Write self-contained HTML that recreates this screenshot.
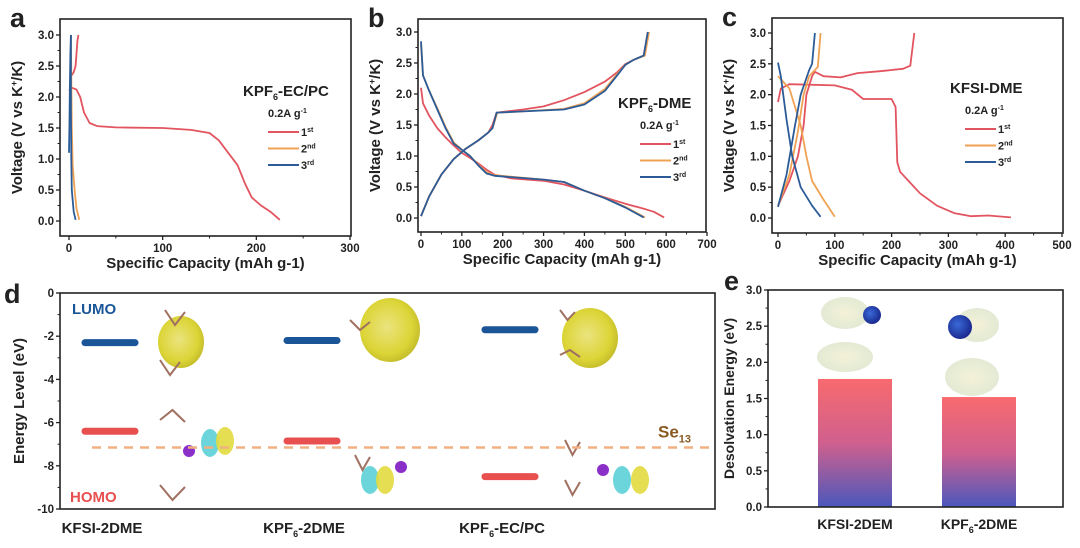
<!DOCTYPE html>
<html><head><meta charset="utf-8">
<style>
html,body{margin:0;padding:0;background:#fff;}
svg{display:block;font-family:"Liberation Sans",Arial,sans-serif;}
text{font-weight:bold;fill:#222;}
</style></head>
<body>
<svg id="fig" width="1080" height="548" viewBox="0 0 1080 548" xmlns="http://www.w3.org/2000/svg">
<defs>
<linearGradient id="barGrad" x1="0" y1="0" x2="0" y2="1">
<stop offset="0" stop-color="#f86a6e"/><stop offset="0.5" stop-color="#d0608e"/><stop offset="1" stop-color="#4a58bc"/>
</linearGradient>
<radialGradient id="blobGrad" cx="0.45" cy="0.45" r="0.6">
<stop offset="0" stop-color="#e8e070"/><stop offset="0.7" stop-color="#d8d020"/><stop offset="1" stop-color="#b8b010"/>
</radialGradient>
<radialGradient id="espGrad" cx="0.5" cy="0.5" r="0.6">
<stop offset="0" stop-color="#f4f2d8"/><stop offset="1" stop-color="#dfe8d2"/>
</radialGradient>
<radialGradient id="blueBall" cx="0.4" cy="0.4" r="0.6">
<stop offset="0" stop-color="#3a6ad8"/><stop offset="1" stop-color="#1a2a90"/>
</radialGradient>
</defs>
<g id="layer"></g>
</svg>
<script>
// ===== Panel a data: KPF6-EC/PC =====
const aCap1d=[0,3,8,12,16,22,30,50,100,130,150,160,170,180,188,195,205,215,225];
const aV1d=[2.1,2.15,2.12,2.0,1.75,1.58,1.53,1.51,1.5,1.47,1.42,1.3,1.1,0.9,0.6,0.38,0.25,0.15,0.02];
const aCap1c=[3,5,7,8,9,10];
const aV1c=[2.35,2.4,2.5,2.7,2.9,3.0];
const aCap2d=[2,3,4,6,8,11];
const aV2d=[3.0,1.5,0.9,0.5,0.2,0.02];
const aCap3d=[2,2,2.5,3,5,7];
const aV3d=[3.0,1.8,1.0,0.5,0.15,0.02];
const aCap3c=[0,0.5,1,1.5,2];
const aV3c=[1.1,1.6,2.2,2.7,3.0];
// ===== Panel b data: KPF6-DME =====
const bCap1d=[0,5,20,40,60,80,100,120,140,160,180,220,300,350,400,450,500,550,570,595];
const bV1d=[2.1,1.85,1.65,1.45,1.3,1.17,1.05,0.97,0.88,0.78,0.7,0.64,0.6,0.54,0.44,0.33,0.23,0.14,0.1,0.01];
const bCap1c=[0,20,50,80,110,140,165,175,185,250,300,350,400,450,480,500,520,545,555];
const bV1c=[0.03,0.35,0.7,0.95,1.12,1.25,1.38,1.5,1.7,1.75,1.8,1.9,2.03,2.2,2.35,2.48,2.55,2.62,3.0];
const bCap2d=[0,5,20,40,60,80,100,120,140,160,180,300,350,400,450,500,548];
const bV2d=[2.8,2.3,2.05,1.77,1.47,1.22,1.1,1.0,0.86,0.74,0.69,0.62,0.58,0.44,0.32,0.18,0.01];
const bCap2c=[0,20,50,80,110,140,165,175,187,250,350,400,450,480,500,520,548,558];
const bV2c=[0.03,0.35,0.7,0.95,1.12,1.25,1.38,1.45,1.7,1.72,1.76,1.85,2.08,2.32,2.47,2.55,2.62,3.0];
const bCap3d=[0,5,20,40,60,80,100,120,140,160,180,300,350,400,450,500,545];
const bV3d=[2.85,2.3,2.05,1.75,1.45,1.2,1.1,1.0,0.85,0.72,0.68,0.62,0.58,0.44,0.32,0.17,0.01];
const bCap3c=[0,20,50,80,110,140,165,175,185,250,350,400,450,480,500,520,545,555];
const bV3c=[0.03,0.35,0.7,0.95,1.12,1.25,1.38,1.45,1.7,1.72,1.75,1.83,2.05,2.3,2.47,2.55,2.62,3.0];
// ===== Panel c data: KFSI-DME =====
const cCap1d=[0,5,20,100,130,150,200,207,210,215,230,250,280,310,340,370,410];
const cV1d=[1.88,2.1,2.17,2.15,2.08,1.93,1.93,1.8,0.9,0.75,0.6,0.4,0.2,0.08,0.03,0.04,0.01];
const cCap1c=[0,20,35,45,50,60,65,80,110,140,180,220,233,240];
const cV1c=[0.2,0.6,1.0,1.5,2.0,2.3,2.37,2.3,2.28,2.35,2.38,2.42,2.47,3.0];
const cCap2d=[0,20,40,50,60,80,100];
const cV2d=[2.3,2.1,1.5,1.0,0.6,0.3,0.02];
const cCap2c=[0,20,35,45,55,70,75];
const cV2c=[0.2,0.7,1.4,2.0,2.3,2.45,3.0];
const cCap3d=[0,5,15,25,40,60,75];
const cV3d=[2.52,2.3,1.6,1.0,0.5,0.2,0.02];
const cCap3c=[0,15,30,40,55,60,65];
const cV3c=[0.18,0.7,1.5,2.0,2.4,2.5,3.0];
// ===== Panel d data =====
const dCats=["KFSI-2DME","KPF6-2DME","KPF6-EC/PC"];
const dLumo=[-2.3,-2.2,-1.7];
const dHomo=[-6.4,-6.85,-8.5];
const dSe13=-7.15;
const dTicks=[0,-2,-4,-6,-8,-10];
// ===== Panel e data =====
const eCats=["KFSI-2DEM","KPF6-2DME"];
const eVals=[1.77,1.52];
const eTicks=[0,0.5,1.0,1.5,2.0,2.5,3.0];
const vTicks=[0,0.5,1.0,1.5,2.0,2.5,3.0];

const NS="http://www.w3.org/2000/svg";
const L=document.getElementById('layer');
function mk(tag,attrs,parent){const e=document.createElementNS(NS,tag);for(const k in attrs)e.setAttribute(k,attrs[k]);(parent||L).appendChild(e);return e;}
function txt(x,y,s,size,anchor,fill,parent){const t=mk('text',{x:x,y:y,'font-size':size,'text-anchor':anchor||'middle'},parent);if(fill)t.style.fill=fill;t.textContent=s;return t;}
const RED="#e2545f",ORG="#f0a254",BLU="#2b5c98";

function gcdPanel(p){
  const g=mk('g',{});
  
  
  const sx=v=>p.x0+(v-p.xmin)/(p.xmax-p.xmin)*(p.x1-p.x0);
  const sy=v=>p.y0-(v)/3*(p.y0-p.y1);
  const fr=mk('rect',{x:p.fl,y:p.ft,width:p.fr-p.fl,height:p.fb-p.ft,fill:'none',stroke:'#222','stroke-width':1.6},g);
  
  vTicks.forEach(v=>{const y=sy(v);mk('line',{x1:p.fl-4,x2:p.fl,y1:y,y2:y,stroke:'#222','stroke-width':1.3},g);
    const t=txt(p.fl-6,y+4,v.toFixed(1),11.5,'end',null,g);
    if(v<3){const ym=sy(v+0.25);mk('line',{x1:p.fl-2.5,x2:p.fl,y1:ym,y2:ym,stroke:'#222','stroke-width':1},g);}});
  p.xt.forEach((v,i)=>{const x=sx(v);mk('line',{x1:x,x2:x,y1:p.fb,y2:p.fb+4,stroke:'#222','stroke-width':1.3},g);
    const t=txt(x,p.fb+16,String(v),11.5,'middle',null,g);
    if(i<p.xt.length-1){const xm=sx(v+(p.xt[1]-p.xt[0])/2);mk('line',{x1:xm,x2:xm,y1:p.fb,y2:p.fb+2.5,stroke:'#222','stroke-width':1},g);}});
  const xl=txt((p.fl+p.fr)/2,p.fb+32,'Specific Capacity (mAh g-1)',15,'middle',null,g);
  
  const yl=mk('text',{x:0,y:0,'font-size':15,'text-anchor':'middle',transform:`translate(${p.fl-38},${(p.ft+p.fb)/2}) rotate(-90)`},g);
  yl.innerHTML='Voltage (V vs K<tspan dy="-5" font-size="9">+</tspan><tspan dy="5">/K)</tspan>';
  
  const lt=txt(p.fl-50,p.ft+8,p.letter,27,'start',null,g);
  
  p.series.forEach(s=>{
    const d=s.c.map((c,i)=>(i?'L':'M')+sx(c).toFixed(1)+','+sy(s.v[i]).toFixed(1)).join(' ');
    const path=mk('path',{d:d,fill:'none',stroke:s.col,'stroke-width':1.8,'stroke-linejoin':'round'},g);
    
  });
  const tt=mk('text',{x:p.lx,y:p.ly,'font-size':15,'text-anchor':'start'},g);tt.innerHTML=p.title;
  
  const rt=mk('text',{x:p.lx2,y:p.ly+21,'font-size':11,'text-anchor':'start'},g);rt.innerHTML='0.2A g<tspan dy="-4" font-size="7">-1</tspan>';
  
  [[RED,'1','st'],[ORG,'2','nd'],[BLU,'3','rd']].forEach((e,i)=>{
    const y=p.ly+36+i*16.5;
    const ln=mk('line',{x1:p.lx2,x2:p.lx2+31,y1:y,y2:y,stroke:e[0],'stroke-width':2},g);
    
    const t=mk('text',{x:p.lx2+33,y:y+4,'font-size':11,'text-anchor':'start'},g);t.innerHTML=e[1]+'<tspan dy="-4" font-size="7">'+e[2]+'</tspan>';
    
  });
}
gcdPanel({name:'panel-a-kpf6-ecpc',letter:'a',fl:60,fr:351,ft:19,fb:236,x0:69,x1:350,xmin:0,xmax:300,y0:221,y1:35,xt:[0,100,200,300],
  lx:243,ly:96,lx2:268,title:'KPF<tspan dy="4" font-size="9">6</tspan><tspan dy="-4">-EC/PC</tspan>',
  series:[{c:aCap1d,v:aV1d,col:RED,n:'a-cycle1-discharge'},{c:aCap1c,v:aV1c,col:RED,n:'a-cycle1-charge'},
  {c:aCap2d,v:aV2d,col:ORG,n:'a-cycle2'},{c:aCap3d,v:aV3d,col:BLU,n:'a-cycle3-discharge'},{c:aCap3c,v:aV3c,col:BLU,n:'a-cycle3-charge'}]});
gcdPanel({name:'panel-b-kpf6-dme',letter:'b',fl:418,fr:706,ft:19,fb:232,x0:421,x1:707,xmin:0,xmax:700,y0:218,y1:32,xt:[0,100,200,300,400,500,600,700],
  lx:618,ly:108,lx2:640,title:'KPF<tspan dy="4" font-size="9">6</tspan><tspan dy="-4">-DME</tspan>',
  series:[{c:bCap1d,v:bV1d,col:RED,n:'b-cycle1-discharge'},{c:bCap1c,v:bV1c,col:RED,n:'b-cycle1-charge'},
  {c:bCap2d,v:bV2d,col:ORG,n:'b-cycle2-discharge'},{c:bCap2c,v:bV2c,col:ORG,n:'b-cycle2-charge'},
  {c:bCap3d,v:bV3d,col:BLU,n:'b-cycle3-discharge'},{c:bCap3c,v:bV3c,col:BLU,n:'b-cycle3-charge'}]});
gcdPanel({name:'panel-c-kfsi-dme',letter:'c',fl:772,fr:1063,ft:18,fb:233,x0:778,x1:1062,xmin:0,xmax:500,y0:218,y1:33,xt:[0,100,200,300,400,500],
  lx:950,ly:93,lx2:965,title:'KFSI-DME',
  series:[{c:cCap1d,v:cV1d,col:RED,n:'c-cycle1-discharge'},{c:cCap1c,v:cV1c,col:RED,n:'c-cycle1-charge'},
  {c:cCap2d,v:cV2d,col:ORG,n:'c-cycle2-discharge'},{c:cCap2c,v:cV2c,col:ORG,n:'c-cycle2-charge'},
  {c:cCap3d,v:cV3d,col:BLU,n:'c-cycle3-discharge'},{c:cCap3c,v:cV3c,col:BLU,n:'c-cycle3-charge'}]});

// ===== Panel d =====
(function(){
  const g=mk('g',{});
  const fl=60,fr=715,ft=293,fb=509;
  const sy=v=>ft+(0-v)/10*(fb-ft);
  const cx=[110,312,510];
  const blobs=[[181,342,23,26],[390,330,30,32],[590,338,28,30]];
  blobs.forEach(b=>{const e=mk('ellipse',{cx:b[0],cy:b[1],rx:b[2],ry:b[3],fill:'url(#blobGrad)',opacity:0.9},g);});
  const lobes=[[210,443],[225,441],[370,480],[385,480],[622,480],[640,480]];
  lobes.forEach((b,i)=>{const e=mk('ellipse',{cx:b[0],cy:b[1],rx:9,ry:14,fill:i%2?'#e2da40':'#5cd0d8',opacity:0.9},g);});
  [[189,451],[401,467],[603,470]].forEach(p=>{const c=mk('circle',{cx:p[0],cy:p[1],r:6,fill:'#8a2fc8'},g);});
  [[165,310,185,325],[160,360,180,375],[160,420,185,410],[160,485,185,500],[350,320,370,330],[355,455,370,470],[560,310,575,320],[560,355,580,350],[565,440,580,455],[565,480,580,495]].forEach(s=>{
    const l=mk('path',{d:`M${s[0]},${s[1]} L${(s[0]+s[2])/2},${s[3]} L${s[2]},${s[1]+2}`,fill:'none',stroke:'#a07060','stroke-width':2},g);});
  const fr_=mk('rect',{x:fl,y:ft,width:fr-fl,height:fb-ft,fill:'none',stroke:'#222','stroke-width':1.6},g);
  
  dTicks.forEach(v=>{const y=sy(v);mk('line',{x1:fl-4,x2:fl,y1:y,y2:y,stroke:'#222','stroke-width':1.3},g);
    const t=txt(fl-6,y+4,String(v),11.5,'end',null,g);
    if(v>-10){const ym=sy(v-1);mk('line',{x1:fl-2.5,x2:fl,y1:ym,y2:ym,stroke:'#222','stroke-width':1},g);}});
  const yl=txt(0,0,'Energy Level (eV)',15,'middle',null,g);yl.setAttribute('transform',`translate(24,${(ft+fb)/2}) rotate(-90)`);
  
  const lt=txt(4,303,'d',27,'start',null,g);
  const se=mk('line',{x1:92,x2:fr,y1:sy(dSe13),y2:sy(dSe13),stroke:'#f0b080','stroke-width':2.5,'stroke-dasharray':'9,7'},g);
  
  const st=mk('text',{x:658,y:sy(dSe13)-10,'font-size':17,'text-anchor':'start'},g);st.style.fill='#8a5a20';st.innerHTML='Se<tspan dy="5" font-size="11">13</tspan>';
  
  dCats.forEach((c,i)=>{
    const l=mk('line',{x1:cx[i]-25,x2:cx[i]+25,y1:sy(dLumo[i]),y2:sy(dLumo[i]),stroke:'#1a5598','stroke-width':7,'stroke-linecap':'round'},g);
    
    const h=mk('line',{x1:cx[i]-25,x2:cx[i]+25,y1:sy(dHomo[i]),y2:sy(dHomo[i]),stroke:'#e8504f','stroke-width':7,'stroke-linecap':'round'},g);
    
    const t=mk('text',{x:cx[i]-8,y:533,'font-size':15,'text-anchor':'middle'},g);
    t.innerHTML=c.replace('KPF6','KPF<tspan dy="4" font-size="9">6</tspan><tspan dy="-4">')+(c.indexOf('KPF6')>=0?'</tspan>':'');
    
  });
  const lu=txt(72,314,'LUMO',15,'start','#1a5598',g);
  const ho=txt(70,502,'HOMO',15,'start','#e8504f',g);
})();

// ===== Panel e =====
(function(){
  const g=mk('g',{});
  const fl=768,fr=1063,ft=290,fb=507;
  const sy=v=>fb-v/3*(fb-ft);
  const cx=[855,979],bw=74;
  eCats.forEach((c,i)=>{
    const b=mk('rect',{x:cx[i]-bw/2,y:sy(eVals[i]),width:bw,height:fb-sy(eVals[i]),fill:'url(#barGrad)'},g);
    
    const t=mk('text',{x:cx[i],y:529,'font-size':14,'text-anchor':'middle'},g);
    t.innerHTML=c.replace('KPF6','KPF<tspan dy="4" font-size="9">6</tspan><tspan dy="-4">')+(c.indexOf('KPF6')>=0?'</tspan>':'');
    
  });
  [[845,313,24,16],[845,357,28,15],[977,325,22,17],[972,377,27,19]].forEach(m=>{const e=mk('ellipse',{cx:m[0],cy:m[1],rx:m[2],ry:m[3],fill:'url(#espGrad)'},g);});
  [[872,315,9],[960,327,12]].forEach(m=>{const c=mk('circle',{cx:m[0],cy:m[1],r:m[2],fill:'url(#blueBall)'},g);});
  const fr_=mk('rect',{x:fl,y:ft,width:fr-fl,height:fb-ft,fill:'none',stroke:'#222','stroke-width':1.6},g);
  
  eTicks.forEach(v=>{const y=sy(v);mk('line',{x1:fl-4,x2:fl,y1:y,y2:y,stroke:'#222','stroke-width':1.3},g);
    const t=txt(fl-6,y+4,v.toFixed(1),11.5,'end',null,g);
    if(v<3){const ym=sy(v+0.25);mk('line',{x1:fl-2.5,x2:fl,y1:ym,y2:ym,stroke:'#222','stroke-width':1},g);}});
  const yl=txt(0,0,'Desolvation Energy (eV)',14,'middle',null,g);yl.setAttribute('transform',`translate(734,${(ft+fb)/2}) rotate(-90)`);
  
  const lt=txt(724,290,'e',27,'start',null,g);
})();
</script>
</body></html>
